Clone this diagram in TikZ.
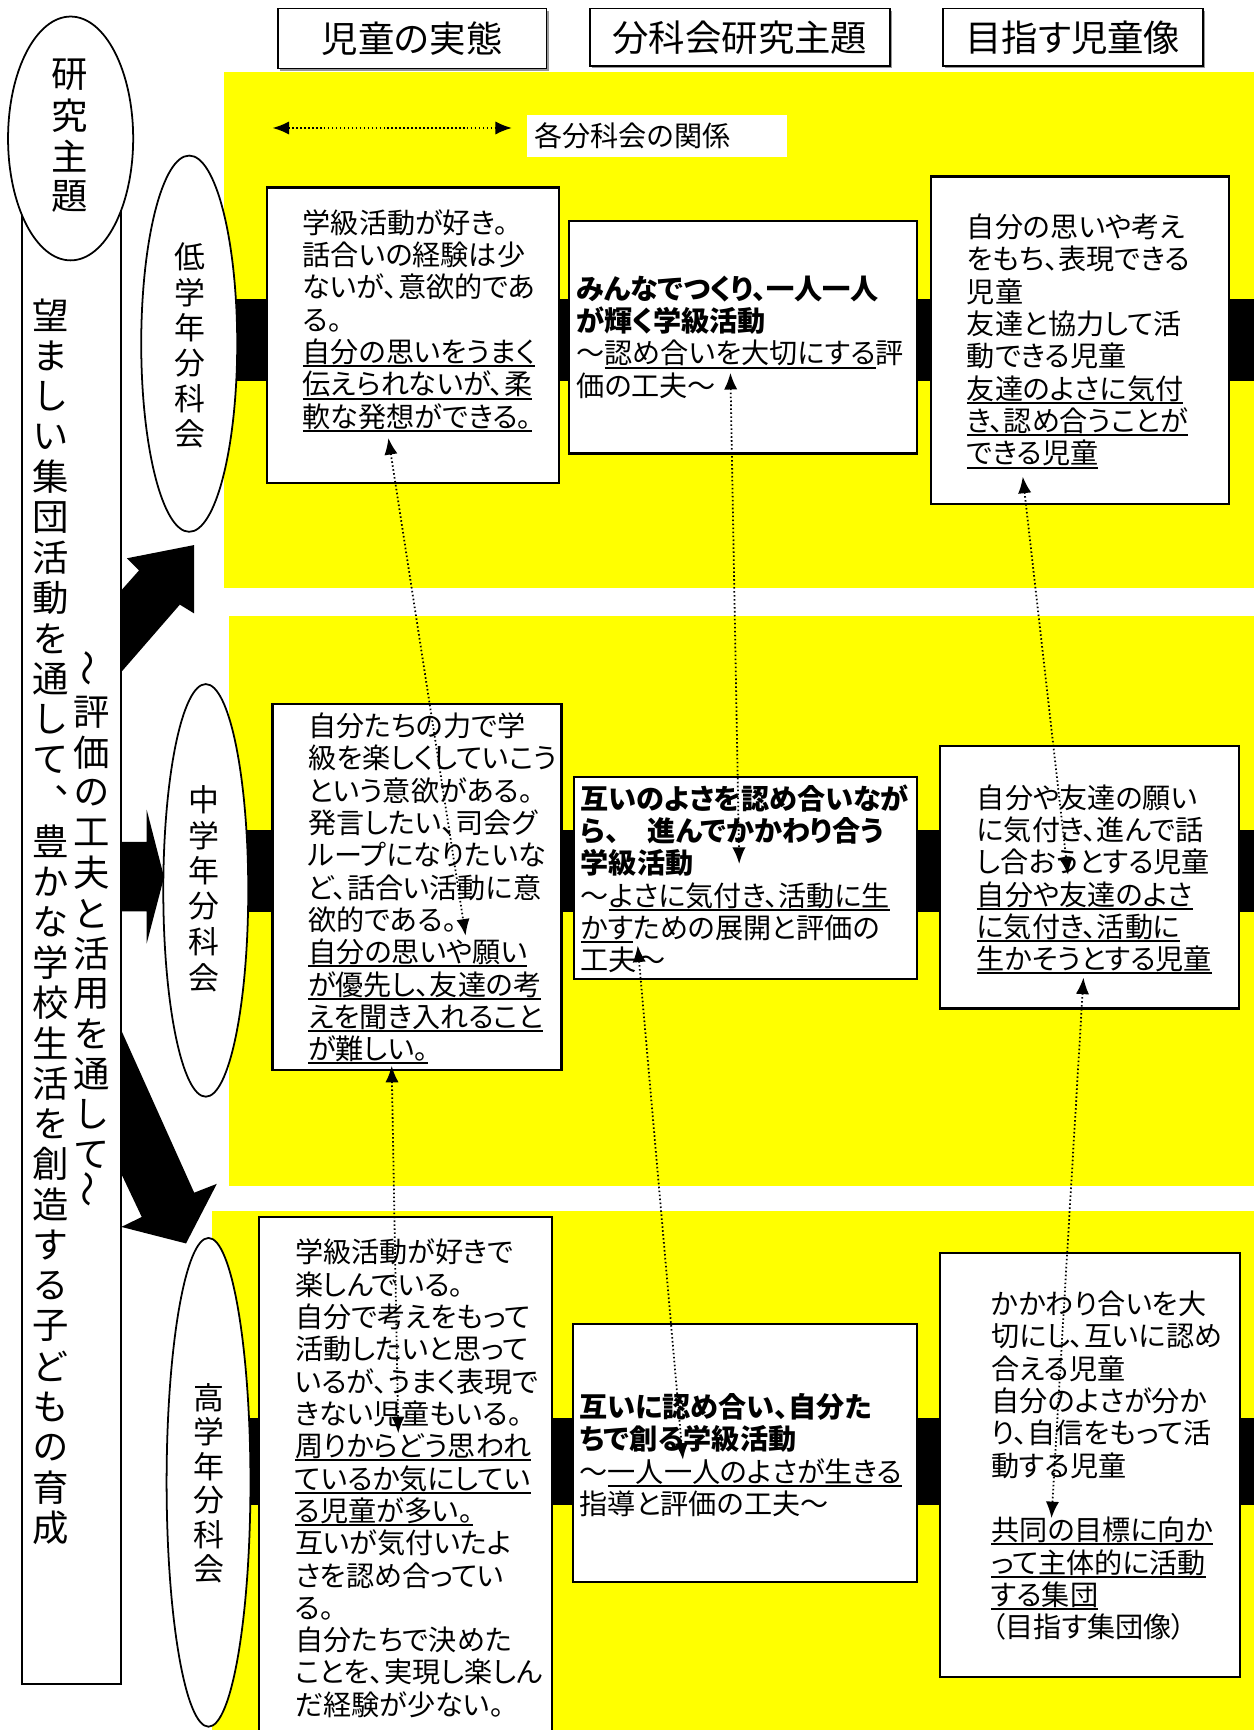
\documentclass[tikz,border=0pt]{standalone}
\usepackage{fontspec}
\setmainfont{Noto Sans CJK JP}[RawFeature=+palt]
\newfontfamily\vjp{Noto Sans CJK JP}[RawFeature=+vert]
\usetikzlibrary{arrows.meta,shapes.geometric,fit,shadows}
\definecolor{yel}{RGB}{255,255,0}
\newcommand\ulx[1]{\setbox0\hbox{#1}\rlap{\rule[-2.1pt]{\wd0}{0.9pt}}\box0}
\begin{document}
\begin{tikzpicture}[x=0.5pt,y=-0.5pt,
  cbox/.style={draw=black,fill=white,line width=1pt,inner sep=0pt},
  ell/.style={ellipse,draw=black,fill=white,line width=0.8pt,inner sep=0pt},
  txt/.style={anchor=north west,inner sep=0pt,align=left,font=\fontsize{12.75}{14.65}\selectfont},
  hdr/.style={draw=black,fill=white,line width=0.8pt,inner sep=0pt,font=\fontsize{16.5}{18}\selectfont,drop shadow={shadow xshift=1pt,shadow yshift=-1pt,fill=black!80}},
  vbig/.style={inner sep=0pt,font=\vjp\fontsize{16.5}{16.5}\selectfont},
  vwave/.style={inner sep=0pt,rotate=90,font=\fontsize{16.5}{16.5}\selectfont},
  vsml/.style={inner sep=0pt,font=\vjp\fontsize{14}{14}\selectfont},
  rel/.style={line width=0.8pt,dash pattern=on 0.7pt off 1.1pt,<->,>={Latex[length=7.5pt,width=6pt]}},
]
\useasboundingbox (0,0) rectangle (1137,1568);
\clip (0,0) rectangle (1137,1568);
\fill[white] (0,0) rectangle (1137,1568);
% yellow zones
\fill[yel] (203,65) rectangle (1137,533);
\fill[yel] (208,558) rectangle (1137,1075);
\fill[yel] (192,1098) rectangle (1137,1568);
% black bands
\fill[black] (200,271) rectangle (1137,345);
\fill[black] (200,752) rectangle (1137,827);
\fill[black] (200,1285) rectangle (1137,1364);
% legend
\node[fill=white,inner sep=0pt,minimum width=118pt,minimum height=19pt,anchor=north west] (LGB) at (477,104) {};
\node[inner sep=0pt,anchor=west,font=\fontsize{12.75}{14}\selectfont] (LGT) at (484,123) {各分科会の関係};
\coordinate (LGa) at (247,116);
\coordinate (LGb) at (464,116);
\draw[rel] (LGa) -- (LGb);
% headers
\node[hdr,minimum width=121.85pt,minimum height=27.2pt] (H1) at (373.5,34.8) {児童の実態};
\node[hdr,minimum width=136pt,minimum height=26.2pt] (H2) at (670.6,33.8) {分科会研究主題};
\node[hdr,minimum width=117.75pt,minimum height=26.2pt] (H3) at (972.3,33.8) {目指す児童像};
% left column box
\node[cbox,line width=0.8pt,fit={(19.6,180) (109.4,1526)}] (LB) {};
\foreach \c [count=\i from 0] in {望,ま,し,い,集,団,活,動,を,通,し,て,、,豊,か,な,学,校,生,活,を,創,造,す,る,子,ど,も,の,育,成}
  \node[vbig] (va\i) at (46.3,{285.6+36.65*\i}) {\c};
\node[vwave] (vb0) at (83.3,606) {～};
\foreach \c [count=\i from 1] in {評,価,の,工,夫,と,活,用,を,通,し,て}
  \node[vbig] (vb\i) at (83.3,{608.8+36.5*\i}) {\c};
\node[vwave] (vb13) at (83.3,1078) {～};
% block arrows
\fill[black] (110,609) -- (110,535) -- (126,517) -- (115,506) -- (176,494) -- (176,556) -- (163,548) -- cycle;
\fill[black] (110,763) -- (133,763) -- (133,734) -- (148.7,795) -- (133,855) -- (133,826) -- (110,826) -- cycle;
\fill[black] (110,934) -- (176,1081) -- (196.5,1073) -- (168.6,1127) -- (110,1112) -- (128.5,1103) -- (110,1064) -- cycle;
% research theme ellipse
\node[ell,minimum width=56.7pt,minimum height=110.5pt] (KK) at (64,125.5) {};
\foreach \c [count=\i from 0] in {研,究,主,題}
  \node[vbig] (vk\i) at (63.5,{68+36.7*\i}) {\c};
% group ellipses
\node[ell,minimum width=43.5pt,minimum height=170.5pt] (E1) at (171.5,311.5) {};
\foreach \c [count=\i from 0] in {低,学,年,分,科,会}
  \node[vsml] (ve1\i) at (172,{233+32*\i}) {\c};
\node[ell,minimum width=38.5pt,minimum height=187pt] (E2) at (186.5,807) {};
\foreach \c [count=\i from 0] in {中,学,年,分,科,会}
  \node[vsml] (ve2\i) at (185,{725+32.2*\i}) {\c};
\node[ell,minimum width=38pt,minimum height=221.5pt] (E3) at (189,1343.5) {};
\foreach \c [count=\i from 0] in {高,学,年,分,科,会}
  \node[vsml] (ve3\i) at (189,{1267+31*\i}) {\c};
% content boxes
\node[cbox,fit={(242,170) (507,438)}] (A1) {};
\node[cbox,fit={(516,200) (831,411)}] (B1) {};
\node[cbox,fit={(844,160) (1114,457)}] (C1) {};
\node[cbox,fit={(247,638) (509,970)}] (A2) {};
\node[cbox,fit={(520,704) (831,887)}] (B2) {};
\node[cbox,fit={(852,676) (1123,914)}] (C2) {};
\node[cbox,fit={(235,1103) (500,1600)}] (A3) {};
\node[cbox,fit={(519,1200) (831,1434)}] (B3) {};
\node[cbox,fit={(852,1136) (1124,1520)}] (C3) {};
% texts
\node[txt] (tA1) at (274,189.5) {学級活動が好き。\\
話合いの経験は少\\
ないが、意欲的であ\\
る。\\
\ulx{自分の思いをうまく}\\
\ulx{伝えられないが、柔}\\
\ulx{軟な発想ができる。}};
\node[txt] (tB1) at (522,249.5) {{\bfseries みんなでつくり、一人一人}\\
{\bfseries が輝く学級活動}\\
～\ulx{認め合いを大切にする}評\\
価の工夫～};
\node[txt] (tC1) at (876,193.5) {自分の思いや考え\\
をもち、表現できる\\
児童\\
友達と協力して活\\
動できる児童\\
\ulx{友達のよさに気付}\\
\ulx{き、認め合うことが}\\
\ulx{できる児童}};
\node[txt] (tA2) at (279,645.5) {自分たちの力で学\\
級を楽しくしていこう\\
という意欲がある。\\
発言したい、司会グ\\
ループになりたいな\\
ど、話合い活動に意\\
欲的である。\\
\ulx{自分の思いや願い}\\
\ulx{が優先し、友達の考}\\
\ulx{えを聞き入れること}\\
\ulx{が難しい。}};
\node[txt] (tB2) at (526,710.5) {{\bfseries 互いのよさを認め合いなが}\\
{\bfseries ら、　進んでかかわり合う}\\
{\bfseries 学級活動}\\
～\ulx{よさに気付き、活動に生}\\
\ulx{かす}ための展開と評価の\\
工夫～};
\node[txt] (tC2) at (885,710.5) {自分や友達の願い\\
に気付き、進んで話\\
し合おうとする児童\\
\ulx{自分や友達のよさ}\\
\ulx{に気付き、活動に}\\
\ulx{生かそうとする児童}};
\node[txt] (tA3) at (267,1122.5) {学級活動が好きで\\
楽しんでいる。\\
自分で考えをもって\\
活動したいと思って\\
いるが、うまく表現で\\
きない児童もいる。\\
\ulx{周りからどう思われ}\\
\ulx{ているか気にしてい}\\
\ulx{る児童が多い。}\\
互いが気付いたよ\\
さを認め合ってい\\
る。\\
自分たちで決めた\\
ことを、実現し楽しん\\
だ経験が少ない。};
\node[txt] (tB3) at (525,1262.5) {{\bfseries 互いに認め合い、自分た}\\
{\bfseries ちで創る学級活動}\\
～\ulx{一人一人のよさが生きる}\\
指導と評価の工夫～};
\node[txt] (tC3) at (898,1169.5) {かかわり合いを大\\
切にし、互いに認め\\
合える児童\\
自分のよさが分か\\
り、自信をもって活\\
動する児童\\
\mbox{}\\
\ulx{共同の目標に向か}\\
\ulx{って主体的に活動}\\
\ulx{する集団}\\
（目指す集団像）};
% relation connectors
\coordinate (r1a) at (352,397);  \coordinate (r1b) at (422,848);
\coordinate (r2a) at (355,966);  \coordinate (r2b) at (361,1299);
\coordinate (r3a) at (662,338);  \coordinate (r3b) at (670,783);
\coordinate (r4a) at (578,857);  \coordinate (r4b) at (619,1323);
\coordinate (r5a) at (927,432);  \coordinate (r5b) at (968,793);
\coordinate (r6a) at (982,886);  \coordinate (r6b) at (953,1376);
\draw[rel] (r1a) -- (r1b);
\draw[rel] (r2a) -- (r2b);
\draw[rel] (r3a) -- (r3b);
\draw[rel] (r4a) -- (r4b);
\draw[rel] (r5a) -- (r5b);
\draw[rel] (r6a) -- (r6b);
\end{tikzpicture}
\end{document}
